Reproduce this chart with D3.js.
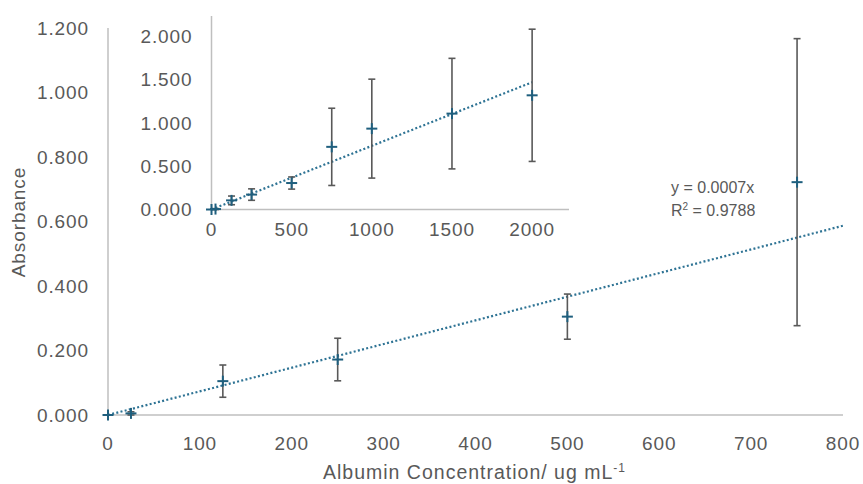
<!DOCTYPE html>
<html><head><meta charset="utf-8">
<script src="https://cdn.jsdelivr.net/npm/d3@7"></script>
<style>
body{margin:0;background:#fff;}
text{font-family:"Liberation Sans",Arial,sans-serif;fill:#595959;}
</style></head>
<body><svg id="c" width="863" height="484"></svg>
<script>
// Data
const concentration = [0, 25, 125, 250, 500, 750, 1000, 1500, 2000];
const absorbance    = [0, 0.005, 0.105, 0.172, 0.305, 0.722, 0.932, 1.105, 1.316];
const errorBar      = [0, 0.005, 0.05, 0.066, 0.07, 0.445, 0.57, 0.637, 0.762];
const mainYTicks = [0, 0.2, 0.4, 0.6, 0.8, 1.0, 1.2];
const mainXTicks = [0, 100, 200, 300, 400, 500, 600, 700, 800];
const insetYTicks = [0, 0.5, 1.0, 1.5, 2.0];
const insetXTicks = [0, 500, 1000, 1500, 2000];
const eqLabel = "y = 0.0007x";
const r2Value = "0.9788";

const pts = concentration.map((c,i)=>({x:c,y:absorbance[i],e:errorBar[i]}));
// least squares through origin
const slope = d3.sum(pts,d=>d.x*d.y)/d3.sum(pts,d=>d.x*d.x);

const svg = d3.select("#c");
const axisCol = "#bfbfbf", markCol = "#1f5f7e", trendCol = "#2e7394", errCol = "#595959";

function panel(g, xs, ys, xTicks, yTicks, data, xEnd, opts){
  g.append("line").attr("x1",xs.range()[0]).attr("x2",xs.range()[1]).attr("y1",ys(0)).attr("y2",ys(0))
    .attr("stroke",axisCol).attr("stroke-width",1.5);
  g.append("line").attr("x1",xs(0)).attr("x2",xs(0)).attr("y1",ys.range()[0]).attr("y2",ys.range()[1])
    .attr("stroke",axisCol).attr("stroke-width",1.5);
  g.selectAll(".yt").data(yTicks).enter().append("text")
    .attr("x",xs(0)-19).attr("y",d=>ys(d)).attr("dy","0.36em").attr("text-anchor","end")
    .style("font-size","19px").style("letter-spacing","0.9px").text(d=>d3.format(".3f")(d));
  g.selectAll(".xt").data(xTicks).enter().append("text")
    .attr("x",d=>xs(d)).attr("y",ys(0)+opts.xLabOff).attr("text-anchor","middle")
    .style("font-size","19px").style("letter-spacing","0.9px").text(d=>d);
  g.append("line").attr("x1",xs(0)).attr("y1",ys(0)).attr("x2",xs(xEnd)).attr("y2",ys(slope*xEnd))
    .attr("stroke",trendCol).attr("stroke-width",2.2).attr("stroke-dasharray","2,2.3");
  const eb = g.selectAll(".eb").data(data.filter(d=>d.e>0)).enter().append("g");
  eb.append("line").attr("x1",d=>xs(d.x)).attr("x2",d=>xs(d.x)).attr("y1",d=>ys(d.y+d.e)).attr("y2",d=>ys(d.y-d.e))
    .attr("stroke",errCol).attr("stroke-width",1.6);
  eb.append("line").attr("x1",d=>xs(d.x)-3.5).attr("x2",d=>xs(d.x)+3.5).attr("y1",d=>ys(d.y+d.e)).attr("y2",d=>ys(d.y+d.e))
    .attr("stroke",errCol).attr("stroke-width",1.6);
  eb.append("line").attr("x1",d=>xs(d.x)-3.5).attr("x2",d=>xs(d.x)+3.5).attr("y1",d=>ys(d.y-d.e)).attr("y2",d=>ys(d.y-d.e))
    .attr("stroke",errCol).attr("stroke-width",1.6);
  const m = g.selectAll(".m").data(data).enter().append("g")
    .attr("transform",d=>`translate(${xs(d.x)},${ys(d.y)})`);
  m.append("line").attr("x1",-5.5).attr("x2",5.5).attr("stroke",markCol).attr("stroke-width",2);
  m.append("line").attr("y1",-5.5).attr("y2",5.5).attr("stroke",markCol).attr("stroke-width",2);
}

const mx = d3.scaleLinear().domain([0,800]).range([108,843]);
const my = d3.scaleLinear().domain([0,1.2]).range([415,28]);
panel(svg.append("g"), mx, my, mainXTicks, mainYTicks, pts.filter(d=>d.x<=800), 800, {xLabOff:35});

const ix = d3.scaleLinear().domain([0,2230]).range([211.5,569]);
const iy = d3.scaleLinear().domain([0,2.23]).range([209.5,16]);
panel(svg.append("g"), ix, iy, insetXTicks, insetYTicks, pts, 2000, {xLabOff:26});

svg.append("text").attr("transform","translate(25,222) rotate(-90)").attr("text-anchor","middle")
  .style("font-size","19px").style("letter-spacing","0.9px").text("Absorbance");
const t = svg.append("text").attr("x",323).attr("y",479).style("font-size","19.5px").style("letter-spacing","1px");
t.append("tspan").text("Albumin Concentration/ ug mL");
t.append("tspan").attr("dy","-7").style("font-size","12px").text("-1");

svg.append("text").attr("x",671).attr("y",193).style("font-size","16px").text(eqLabel);
const r = svg.append("text").attr("x",671).attr("y",216).style("font-size","16px");
r.append("tspan").text("R");
r.append("tspan").attr("dy","-6").style("font-size","10px").text("2");
r.append("tspan").attr("dy","6").text(" = " + r2Value);
</script></body></html>
